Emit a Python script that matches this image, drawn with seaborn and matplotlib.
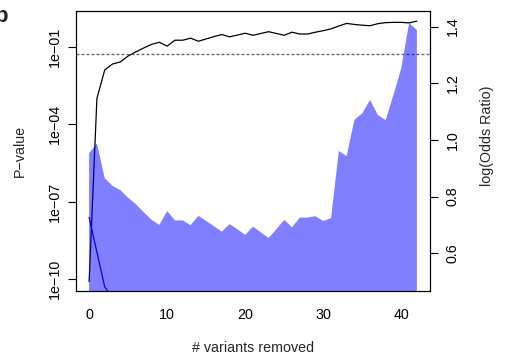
import matplotlib
matplotlib.use("Agg")
import matplotlib.pyplot as plt
import seaborn as sns
import numpy as np
from matplotlib.ticker import FixedLocator, FixedFormatter, NullLocator

# ---------------- data ----------------
variants_removed = list(range(43))

# black line: log10 P-value
log10_pvalue = [-10.09, -3.0, -1.90, -1.67, -1.59, -1.36, -1.20, -1.05, -0.91, -0.83,
                -0.98, -0.75, -0.75, -0.67, -0.79, -0.70, -0.61, -0.53, -0.62, -0.55,
                -0.48, -0.56, -0.49, -0.42, -0.49, -0.56, -0.44, -0.51, -0.51, -0.44,
                -0.38, -0.31, -0.20, -0.10, -0.14, -0.17, -0.19, -0.11, -0.07, -0.06,
                -0.06, -0.08, -0.01]

# blue line: log10 P-value (second series, drops off the bottom)
blue_x = [0, 1, 2, 3]
blue_log10_pvalue = [-7.6, -8.95, -10.29, -10.7]

# filled area: log(Odds Ratio)
log_odds_ratio = [0.953, 0.988, 0.865, 0.838, 0.823, 0.796, 0.773, 0.745, 0.718, 0.700,
                  0.749, 0.716, 0.716, 0.699, 0.732, 0.714, 0.696, 0.676, 0.703, 0.685,
                  0.665, 0.694, 0.674, 0.654, 0.685, 0.718, 0.692, 0.726, 0.726, 0.731,
                  0.714, 0.724, 0.961, 0.943, 1.071, 1.094, 1.141, 1.088, 1.070, 1.159,
                  1.253, 1.412, 1.388]

threshold = 0.05
x_ticks = [0, 10, 20, 30, 40]
p_ticks = [1e-10, 1e-07, 1e-04, 1e-01]
p_tick_labels = ["1e\u221210", "1e\u221207", "1e\u221204", "1e\u221201"]
or_ticks = [0.6, 0.8, 1.0, 1.2, 1.4]
or_tick_labels = ["0.6", "0.8", "1.0", "1.2", "1.4"]

# ---------------- style ----------------
sns.set_theme(style="white")
plt.rcParams["font.family"] = ["Liberation Sans", "DejaVu Sans"]
FS = 10.3

W, H = 509, 358
fig = plt.figure(figsize=(W / 100, H / 100), dpi=100)
L, R, T, B = 76, 430, 11, 291
ax = fig.add_axes([L / W, 1 - B / H, (R - L) / W, (B - T) / H])

pvalue = [10 ** v for v in log10_pvalue]
blue_pvalue = [10 ** v for v in blue_log10_pvalue]

sns.lineplot(x=variants_removed, y=pvalue, color="black", linewidth=0.9, ax=ax)
ax.axhline(threshold, color="#666666", linestyle=(0, (2.1, 1.5)), linewidth=1.0)
sns.lineplot(x=blue_x, y=blue_pvalue, color="#0000FF", linewidth=0.9, ax=ax)

ax.set_yscale("log")
ax.set_xlim(-1.68, 43.68)
ax.set_ylim(10 ** -10.45, 10 ** 0.38)
ax.yaxis.set_major_locator(FixedLocator(p_ticks))
ax.yaxis.set_major_formatter(FixedFormatter(p_tick_labels))
ax.yaxis.set_minor_locator(NullLocator())
ax.set_xticks(x_ticks)
ax.set_xticklabels([str(t) for t in x_ticks])
for lab in ax.get_yticklabels():
    lab.set_rotation(90)
    lab.set_va("center")
ax.tick_params(axis="x", direction="out", length=5.5, width=0.8, pad=7, labelsize=FS, colors="black")
ax.tick_params(axis="y", direction="out", length=5.5, width=0.8, pad=5, labelsize=FS, colors="black")

ax.set_xlabel("# variants removed", fontsize=FS)
ax.xaxis.set_label_coords(0.5, (B - 348) / (B - T))
ax.xaxis.label.set_va("center")
ax.set_ylabel("P\u2212value", fontsize=FS)
ax.yaxis.set_label_coords((20 - L) / (R - L), 0.5)
ax.yaxis.label.set_va("center")

ax2 = ax.twinx()
ax2.fill_between(variants_removed, log_odds_ratio, 0, color=(0, 0, 1, 0.5), linewidth=0)
ax2.set_ylim(0.467, 1.455)
ax2.set_yticks(or_ticks)
ax2.set_yticklabels(or_tick_labels, rotation=90, va="center")
ax2.tick_params(axis="y", direction="out", length=5.5, width=0.8, pad=6, labelsize=FS, colors="black")
ax2.set_ylabel("log(Odds Ratio)", fontsize=FS)
ax2.yaxis.set_label_coords((487 - L) / (R - L), (B - 135.5) / (B - T))
ax2.yaxis.label.set_va("center")
ax2.yaxis.label.set_rotation(90)

for a in (ax, ax2):
    for s in a.spines.values():
        s.set_color("black")
        s.set_linewidth(0.8)

fig.text(-5.7 / W, 1 - 21.7 / H, "b", fontsize=16, fontweight="bold", ha="left", va="baseline")

fig.savefig("out.png", dpi=100)
